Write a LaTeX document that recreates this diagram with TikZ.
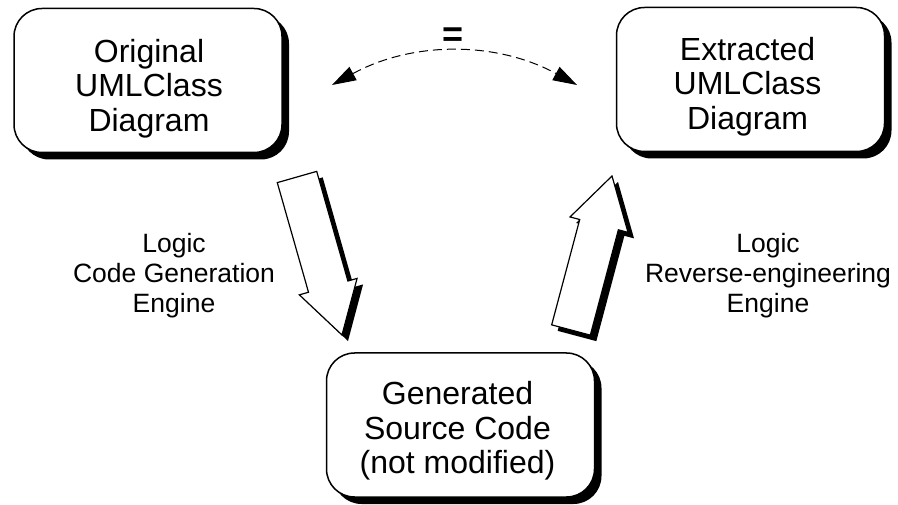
\documentclass[tikz,border=0pt]{standalone}
\usepackage{fontspec}
\setmainfont{Liberation Sans}
\usetikzlibrary{calc,arrows.meta,shadows}

\begin{document}
\begin{tikzpicture}[x=1pt,y=-1pt,
  umlbox/.style={draw, line width=1.5pt, rounded corners=28pt, fill=white,
    minimum width=268pt, minimum height=144pt, inner sep=0pt,
    drop shadow={shadow xshift=7pt, shadow yshift=-7pt, fill=black, opacity=1}},
  boxtext/.style={align=center, font=\fontsize{32}{34.5}\selectfont, inner sep=0pt},
  sidetext/.style={align=center, font=\fontsize{26.5}{30}\selectfont, inner sep=0pt},
  blockarrow/.style={draw, line width=1.2pt, fill=white, line join=miter},
  arrowshade/.style={fill=black, transform canvas={shift={(6pt,-6pt)}}},
  equiv/.style={dash pattern=on 9pt off 5pt, line width=1pt,
    {Triangle[length=24pt,width=15pt]}-{Triangle[length=24pt,width=15pt]}}]

\useasboundingbox (0,0) rectangle (898,505);

% the three model boxes
\node[umlbox] (orig) at (148,80.5) {};
\node[umlbox] (extr) at (750.5,79.5) {};
\node[umlbox] (gen)  at (460.5,425) {};

\node[boxtext] (origtxt) at ($(orig.center)+(1,8)$) {Original\\UMLClass\\Diagram};
\node[boxtext] (extrtxt) at ($(extr.center)+(-3,7)$) {Extracted\\UMLClass\\Diagram};
\node[boxtext] (gentxt)  at ($(gen.center)+(-3,6)$)  {Generated\\Source Code\\(not modified)};

% equivalence between the two class diagrams
\coordinate (eqL) at (332,85);
\coordinate (eqR) at (577,85);
\draw[equiv] (eqL) .. controls (412.7,41) and (496.3,41) .. (eqR);
\node[font=\fontsize{36}{36}\bfseries, inner sep=0pt] (eqsign) at (453,37.5) {=};

% block arrow: code generation (downwards)
\coordinate (dnTail) at (297,177);
\coordinate (dnTip)  at (342,335);
\coordinate (dnBase) at ($(dnTail)!114pt!(dnTip)$);
\fill[arrowshade]
  ($(dnTail)!20.5pt!90:(dnTip)$) -- ($(dnBase)!20.5pt!90:(dnTip)$) -- ($(dnBase)!30pt!90:(dnTip)$)
  -- (dnTip) -- ($(dnBase)!30pt!-90:(dnTip)$) -- ($(dnBase)!20.5pt!-90:(dnTip)$)
  -- ($(dnTail)!20.5pt!-90:(dnTip)$) -- cycle;
\path[blockarrow]
  ($(dnTail)!20.5pt!90:(dnTip)$) -- ($(dnBase)!20.5pt!90:(dnTip)$) -- ($(dnBase)!30pt!90:(dnTip)$)
  -- (dnTip) -- ($(dnBase)!30pt!-90:(dnTip)$) -- ($(dnBase)!20.5pt!-90:(dnTip)$)
  -- ($(dnTail)!20.5pt!-90:(dnTip)$) -- cycle;

% block arrow: reverse engineering (upwards)
\coordinate (upTail) at (571,330);
\coordinate (upTip)  at (612,176);
\coordinate (upBase) at ($(upTail)!109pt!(upTip)$);
\fill[arrowshade]
  ($(upTail)!20pt!90:(upTip)$) -- ($(upBase)!20pt!90:(upTip)$) -- ($(upBase)!30pt!90:(upTip)$)
  -- (upTip) -- ($(upBase)!30pt!-90:(upTip)$) -- ($(upBase)!20pt!-90:(upTip)$)
  -- ($(upTail)!20pt!-90:(upTip)$) -- cycle;
\path[blockarrow]
  ($(upTail)!20pt!90:(upTip)$) -- ($(upBase)!20pt!90:(upTip)$) -- ($(upBase)!30pt!90:(upTip)$)
  -- (upTip) -- ($(upBase)!30pt!-90:(upTip)$) -- ($(upBase)!20pt!-90:(upTip)$)
  -- ($(upTail)!20pt!-90:(upTip)$) -- cycle;

% engine labels
\node[sidetext] (genlabel) at (174,276) {Logic\\Code Generation\\Engine};
\node[sidetext] (revlabel) at (768,276) {Logic\\Reverse-engineering\\Engine};
\end{tikzpicture}
\end{document}
